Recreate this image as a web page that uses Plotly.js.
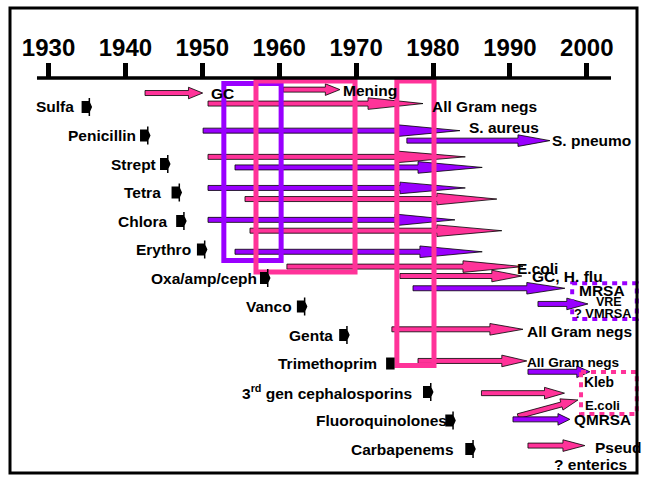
<!DOCTYPE html>
<html><head><meta charset="utf-8">
<script src="https://cdn.plot.ly/plotly-3.0.1.min.js"></script>
<style>html,body{margin:0;padding:0;background:#fff}#chart{width:645px;height:477px}</style>
</head><body><div id="chart"></div>
<script>
// ---------- DATA ----------
// timeline decades
const decades = [1930, 1940, 1950, 1960, 1970, 1980, 1990, 2000];

// antibiotics: name, year introduced (marker), row
const drugNames = ['Sulfa', 'Penicillin', 'Strept', 'Tetra', 'Chlora', 'Erythro', 'Oxa/amp/ceph',
  'Vanco', 'Genta', 'Trimethoprim', '3<sup>rd</sup> gen cephalosporins', 'Fluoroquinolones', 'Carbapenems'];
const drugYears = [1934.3, 1941.9, 1944.5, 1946.0, 1946.6, 1949.3, 1957.5, 1962.3, 1967.8, 1973.9, 1978.7, 1981.6, 1984.2];
const drugRows = [0, 1, 2, 3, 4, 5, 6, 7, 8, 9, 10, 11, 12];

// resistance arrows (years and rows)
const arrowFrom     = [1942.55, 1960.5, 1950.74, 1950.1, 1976.6, 1950.74, 1954.25, 1950.74, 1955.55, 1950.74, 1956.2, 1954.25, 1961.0, 1975.7, 1977.4, 1993.65, 1974.65, 1978.05, 1992.35, 1986.3, 1991.05, 1990.4, 1992.35];
const arrowHeadFrom = [1948.2, 1966.0, 1971.55, 1975.45, 1991.05, 1975.3, 1978.05, 1975.7, 1980.5, 1975.05, 1980.5, 1978.3, 1983.9, 1987.65, 1992.2, 1997.4, 1987.4, 1988.95, 1998.7, 1994.5, 1996.7, 1996.25, 1996.9];
const arrowTo       = [1950.05, 1967.9, 1978.7, 1983.5, 1995.2, 1984.2, 1986.4, 1984.2, 1988.3, 1982.85, 1988.95, 1986.4, 1991.7, 1991.55, 1997.15, 2000.15, 1991.7, 1992.2, 2000.4, 1997.1, 1998.85, 1997.8, 1999.75];
const arrowRowFrom  = [-0.49, -0.61, -0.12, 0.83, 1.18, 1.75, 2.12, 2.84, 3.23, 3.96, 4.34, 5.08, 5.6, 5.93, 6.36, 6.91, 7.8, 8.91, 9.29, 10.04, 10.85, 10.96, 11.88];
const arrowRowTo    = [-0.49, -0.61, -0.12, 0.83, 1.18, 1.75, 2.12, 2.84, 3.23, 3.96, 4.34, 5.08, 5.6, 5.93, 6.36, 6.91, 7.8, 8.91, 9.29, 10.04, 10.28, 10.96, 11.88];
const arrowGroup    = ['pink', 'pink', 'pink', 'purple', 'purple', 'pink', 'purple', 'purple', 'pink', 'purple', 'pink', 'purple', 'pink', 'pink', 'purple', 'purple', 'pink', 'pink', 'purple', 'pink', 'pink', 'purple', 'pink'];

// organism labels
const noteText = ['GC', 'Mening', 'All Gram negs', 'S. aureus', 'S. pneumo', 'E.coli', 'GC, H. flu', 'MRSA', 'VRE', '? VMRSA',
  'All Gram negs', 'All Gram negs', 'Kleb', 'E.coli', 'QMRSA', 'Pseud', '? enterics'];
const noteYear = [1950.87, 1968.04, 1979.62, 1984.43, 1995.2, 1990.66, 1992.6, 1998.72, 2000.9, 1998.08, 1991.96, 1991.96, 1999.38, 1999.5, 1998.08, 2000.81, 1995.48];
const noteRow  = [-0.49, -0.58, -0.035, 0.72, 1.19, 5.65, 5.95, 6.44, 6.83, 7.25, 7.88, 8.96, 9.67, 10.46, 10.98, 11.96, 12.56];

// highlighted periods
const boxFrom   = [1952.8, 1956.98, 1975.3, 1998.1, 1999.25];
const boxTo     = [1960.25, 1969.86, 1980.13, 2006.5, 2006.5];
const boxRowTop = [-0.82, -0.91, -0.91, 6.18, 9.3];
const boxRowBot = [5.39, 5.79, 9.07, 7.44, 10.77];
const boxGroup  = ['purple', 'pink', 'pink', 'purple', 'pink'];
const boxDotted = [false, false, false, true, true];

// ---------- STYLE ----------
const W = 645, H = 477;
const X_RANGE = [1923.69, 2007.57];
const Y_RANGE = [12.982, -3.754];
const PXY = W / (X_RANGE[1] - X_RANGE[0]);
const PXR = H / (Y_RANGE[0] - Y_RANGE[1]);
const COLORS = {pink: '#FF3399', purple: '#9900FF'};
const BODY = 2.5, HEAD = 5.8;
const FONT = 'Liberation Sans, Arial, sans-serif';
const AXIS_Y = 1 - 78 / H;
const drugGap = [6, 2.5, 2.5, 9, 7, 3.5, 1, 3, 4, 7, 9, -4, 9];
const noteSize = [15.5, 15.5, 15.5, 15.5, 15.5, 15.5, 15.5, 15.5, 12.5, 12.8, 15.5, 13.6, 13.8, 13.1, 15.3, 15.5, 15.5];
const ICON_ARROW = 'M0,6 L7,6 L7,9 L8.5,9 L8.5,4.5 L10.5,0 L8.5,-4.5 L8.5,-9 L7,-9 L7,-6 L0,-6 Z';
const ICON_BLOCK = 'M0,6 L8.5,6 L8.5,-6 L0,-6 Z';
const drugIcon = [1, 1, 1, 1, 1, 1, 1, 1, 1, 0, 1, 1, 1];

function f(v) { return (+v).toFixed(3); }

function arrowShape(i) {
  const x0 = arrowFrom[i], x1 = arrowTo[i], xh = arrowHeadFrom[i];
  const r0 = arrowRowFrom[i], r1 = arrowRowTo[i];
  const dx = (x1 - x0) * PXY, dy = (r0 - r1) * PXR;
  const L = Math.hypot(dx, dy), ux = dx / L, uy = dy / L, nx = -uy, ny = ux;
  const hl = (x1 - xh) * PXY / ux;
  const bx = dx - ux * hl, by = dy - uy * hl;
  const pts = [[nx * BODY, ny * BODY], [bx + nx * BODY, by + ny * BODY], [bx + nx * HEAD, by + ny * HEAD], [dx, dy],
    [bx - nx * HEAD, by - ny * HEAD], [bx - nx * BODY, by - ny * BODY], [-nx * BODY, -ny * BODY]];
  const path = pts.map((p, k) => (k ? 'L' : 'M') + f(x0 + p[0] / PXY) + ',' + f(p[1])).join(' ') + ' Z';
  return {type: 'path', xref: 'x', yref: 'y', ysizemode: 'pixel', yanchor: r0, path: path,
    fillcolor: COLORS[arrowGroup[i]], line: {color: '#000', width: 0.8}, layer: 'above'};
}

const shapes = [];
arrowFrom.forEach((_, i) => shapes.push(arrowShape(i)));
boxFrom.forEach((_, i) => shapes.push({
  type: 'rect', xref: 'x', yref: 'y', x0: boxFrom[i], x1: boxTo[i], y0: boxRowTop[i], y1: boxRowBot[i],
  line: {color: COLORS[boxGroup[i]], width: boxDotted[i] ? 4 : 5, dash: boxDotted[i] ? '5px,5px' : 'solid'},
  fillcolor: 'rgba(0,0,0,0)', layer: 'above'
}));
drugYears.forEach((yr, i) => shapes.push({
  type: 'path', xref: 'x', yref: 'y', xsizemode: 'pixel', xanchor: yr, ysizemode: 'pixel', yanchor: drugRows[i],
  path: drugIcon[i] ? ICON_ARROW : ICON_BLOCK, fillcolor: '#000', line: {width: 0}, layer: 'above'
}));
shapes.push({type: 'line', xref: 'x', yref: 'paper', x0: decades[0] - 1.5, x1: decades[decades.length - 1] + 3.15,
  y0: AXIS_Y, y1: AXIS_Y, line: {color: '#000', width: 3.5}});
shapes.push({type: 'rect', xref: 'paper', yref: 'paper', x0: 10 / W, x1: 637 / W, y0: 1 - 473 / H, y1: 1 - 8 / H,
  line: {color: '#000', width: 3}, fillcolor: 'rgba(0,0,0,0)'});

const annotations = [];
drugNames.forEach((n, i) => annotations.push({
  text: n, x: drugYears[i], y: drugRows[i], xref: 'x', yref: 'y', xanchor: 'right', yanchor: 'middle',
  xshift: -drugGap[i], showarrow: false, font: {family: FONT, size: 15.5, color: '#000', weight: 'bold'}
}));
noteText.forEach((t, i) => annotations.push({
  text: t, x: noteYear[i], y: noteRow[i], xref: 'x', yref: 'y', xanchor: 'left', yanchor: 'middle',
  showarrow: false, font: {family: FONT, size: noteSize[i], color: '#000', weight: 'bold'}
}));

const data = [{x: drugYears, y: drugRows, type: 'scatter', mode: 'markers', marker: {opacity: 0}, hoverinfo: 'skip', showlegend: false}];

const layout = {
  width: W, height: H, margin: {l: 0, r: 0, t: 0, b: 0},
  paper_bgcolor: '#fff', plot_bgcolor: '#fff', showlegend: false,
  xaxis: {range: X_RANGE, tickvals: decades, ticktext: decades.map(String), side: 'top', anchor: 'free', position: AXIS_Y,
    ticks: 'outside', ticklen: 15, tickwidth: 5, tickcolor: '#000', showline: false, showgrid: false, zeroline: false,
    ticklabelstandoff: -3,
    tickfont: {family: FONT, size: 24, color: '#000', weight: 'bold'}, fixedrange: true},
  yaxis: {range: Y_RANGE, visible: false, showgrid: false, zeroline: false, fixedrange: true},
  shapes: shapes, annotations: annotations
};
Plotly.newPlot('chart', data, layout, {displayModeBar: false, staticPlot: true});
</script></body></html>
